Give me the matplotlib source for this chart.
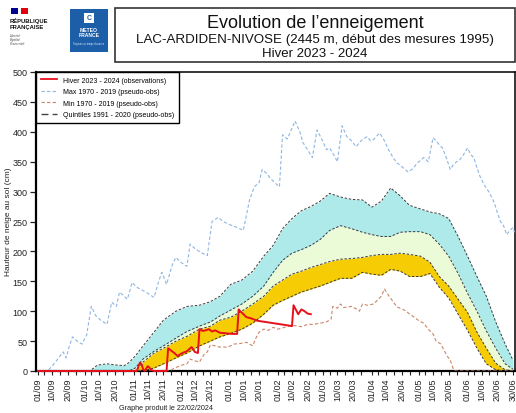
import pandas as pd
import matplotlib
matplotlib.use("Agg")
import matplotlib.pyplot as plt
import matplotlib.dates as mdates
from matplotlib.patches import Rectangle
from matplotlib.lines import Line2D

plt.rcParams["font.family"] = ["Liberation Sans", "DejaVu Sans"]

SEASON_START = "2023-09-01"
SEASON_END = "2024-06-30"

# quintiles 1991-2020, days since 01/09
q_days = [0, 33, 38, 44, 50, 55, 58, 62, 67, 74, 80, 88, 95, 103, 110, 116, 123, 130, 137, 144,
          150, 156, 162, 168, 174, 180, 186, 193, 200, 207, 213, 219, 225, 231, 237, 244, 250,
          256, 262, 268, 274, 280, 286, 292, 298, 303]
q80 = [0, 0, 10, 12, 10, 9, 14, 25, 42, 65, 85, 100, 108, 110, 116, 125, 145, 152, 167, 192,
       210, 238, 255, 268, 275, 284, 297, 291, 287, 286, 274, 284, 306, 293, 277, 271, 266,
       263, 255, 225, 192, 158, 125, 82, 45, 18]
q60 = [0, 0, 0, 0, 0, 0, 0, 5, 20, 33, 42, 55, 66, 75, 82, 92, 102, 112, 125, 142,
       165, 185, 197, 203, 210, 220, 235, 243, 238, 232, 228, 225, 225, 232, 233, 233, 228,
       212, 192, 163, 130, 100, 67, 38, 12, 3]
q40 = [0, 0, 0, 0, 0, 0, 0, 0, 15, 30, 38, 50, 58, 70, 75, 85, 90, 100, 112, 125,
       142, 152, 162, 167, 173, 178, 183, 187, 188, 190, 193, 195, 195, 197, 195, 192, 182,
       158, 142, 120, 98, 65, 38, 13, 2, 0]
q20 = [0, 0, 0, 0, 0, 0, 0, 0, 0, 5, 12, 22, 30, 42, 50, 57, 63, 70, 80, 95,
       110, 118, 125, 132, 137, 142, 148, 155, 155, 165, 162, 160, 170, 167, 158, 158, 163,
       140, 122, 95, 68, 38, 12, 2, 0, 0]

# max 1970-2019
max_days = [0, 6, 9, 12, 14, 16, 18, 20, 22, 25, 28, 31, 34, 37, 40, 44, 47, 50, 52, 55,
            57, 60, 63, 66, 70, 74, 77, 79, 82, 86, 88, 91, 95, 97, 100, 104, 108, 111, 115, 118,
            122, 127, 131, 135, 138, 141, 143, 146, 148, 151, 154, 156, 159, 161, 164, 167, 169, 172, 175, 178,
            181, 184, 186, 189, 191, 194, 197, 200, 203, 205, 207, 210, 212, 214, 218, 221, 224, 227, 229, 232,
            236, 239, 242, 244, 246, 249, 252, 254, 256, 258, 260, 263, 265, 267, 269, 271, 274, 276, 278, 280,
            282, 285, 288, 291, 293, 295, 297, 299, 301, 303, 304]
max_vals = [0, 0, 8, 18, 25, 32, 22, 42, 57, 50, 45, 60, 108, 92, 85, 78, 115, 108, 132, 125,
            120, 148, 140, 136, 130, 123, 150, 165, 145, 180, 190, 182, 175, 212, 205, 198, 193, 250, 257, 250,
            245, 240, 235, 287, 308, 315, 337, 330, 323, 315, 308, 395, 388, 400, 418, 400, 382, 370, 357, 403,
            388, 370, 373, 360, 350, 410, 392, 385, 375, 382, 387, 392, 385, 387, 398, 385, 368, 355, 348, 342,
            333, 338, 348, 352, 357, 350, 390, 385, 378, 373, 360, 337, 345, 350, 353, 360, 373, 362, 357, 340,
            325, 310, 298, 282, 265, 250, 243, 228, 235, 240, 232]

# min 1970-2019
min_days = [0, 84, 87, 89, 92, 95, 97, 100, 103, 106, 108, 110, 113, 116, 120, 123, 125, 129, 133, 137,
            139, 141, 144, 147, 150, 153, 156, 160, 164, 168, 172, 176, 180, 184, 187, 188, 191, 193, 195, 197,
            200, 203, 205, 207, 210, 214, 216, 219, 221, 224, 226, 229, 232, 235, 237, 240, 243, 246, 249, 252,
            254, 257, 259, 261, 263, 265, 266, 304]
min_vals = [0, 0, 5, 7, 10, 12, 20, 17, 15, 28, 32, 44, 42, 40, 40, 42, 45, 46, 48, 42,
            55, 65, 70, 68, 73, 70, 72, 75, 76, 74, 78, 78, 80, 82, 87, 108, 105, 112, 106, 107,
            108, 104, 100, 112, 110, 112, 117, 125, 137, 125, 118, 107, 104, 100, 95, 90, 84, 80, 70, 62,
            50, 45, 35, 25, 18, 3, 0, 0]

# hiver 2023-2024 observations
obs_days = [0, 63, 64, 65, 66, 67, 68, 69, 70, 71, 72, 74, 82, 83, 85, 87, 89, 92, 95, 97,
            98, 100, 102, 103, 105, 107, 109, 111, 113, 116, 120, 124, 127, 128, 129, 131, 133, 136, 140, 145,
            150, 155, 160, 162, 163, 165, 166, 168, 170, 172, 174]
obs_vals = [0, 0, 7, 14, 12, 3, 0, 4, 8, 6, 2, 0, 0, 38, 34, 30, 25, 30, 33, 38,
            40, 32, 30, 70, 67, 68, 70, 66, 68, 64, 63, 62, 62, 103, 100, 95, 90, 88, 84, 82,
            80, 78, 76, 75, 110, 100, 95, 103, 100, 96, 95]

tick_months = ["2023-09", "2023-10", "2023-11", "2023-12", "2024-01",
               "2024-02", "2024-03", "2024-04", "2024-05", "2024-06"]
tick_monthdays = [1, 10, 20]

legend_labels = ["Hiver 2023 - 2024 (observations)", "Max 1970 - 2019 (pseudo-obs)",
                 "Min 1970 - 2019 (pseudo-obs)", "Quintiles 1991 - 2020 (pseudo-obs)"]

C_CYAN = "#aeeaea"
C_GREEN = "#ebfbd8"
C_GOLD = "#f6cc04"
C_QLINE = "#3a3a3a"
C_MAX = "#8db6e2"
C_MIN = "#c9866a"
C_OBS = "#e8101a"

W, H = 516, 414


def to_dates(days):
    return pd.Timestamp(SEASON_START) + pd.to_timedelta(days, unit="D")


def fx(px):
    return px / W


def fy(py):
    return 1 - py / H


fig = plt.figure(figsize=(W / 100, H / 100), dpi=100)
ax = fig.add_axes([fx(36), fy(372), (515 - 36) / W, (372 - 73) / H])

xq = to_dates(q_days)
ax.fill_between(xq, q60, q80, color=C_CYAN, lw=0, zorder=1)
ax.fill_between(xq, q40, q60, color=C_GREEN, lw=0, zorder=1)
ax.fill_between(xq, q20, q40, color=C_GOLD, lw=0, zorder=1)
for q in (q80, q60, q40, q20):
    ax.plot(xq, q, color=C_QLINE, lw=0.7, dashes=(2.5, 1.8), zorder=2)

ax.plot(to_dates(max_days), max_vals, color=C_MAX, lw=0.8, dashes=(3, 2), zorder=3)
ax.plot(to_dates(min_days), min_vals, color=C_MIN, lw=0.8, dashes=(3, 2), zorder=3)
ax.plot(to_dates(obs_days), obs_vals, color=C_OBS, lw=1.4, zorder=5, clip_on=False)

ax.set_ylim(0, 500)
ax.set_xlim(pd.Timestamp(SEASON_START) - pd.Timedelta(hours=31),
            pd.Timestamp(SEASON_END) + pd.Timedelta(hours=31))
ax.set_yticks(range(0, 501, 50))

xticks = [pd.Timestamp(f"{m}-{d:02d}") for m in tick_months for d in tick_monthdays]
xticks.append(pd.Timestamp(SEASON_END))
ax.set_xticks(xticks)
ax.xaxis.set_major_formatter(mdates.DateFormatter("%d/%m"))
ax.xaxis.set_minor_locator(mdates.DayLocator(bymonthday=[5, 15, 25]))
ax.tick_params(axis="x", which="both", length=3, width=0.8, labelsize=6.5, pad=1.5,
               labelrotation=90, colors="#222222")
ax.tick_params(axis="y", length=4, width=0.9, labelsize=6.5, pad=2, colors="#222222")

for side in ("top", "right"):
    ax.spines[side].set_linewidth(1.1)
for side in ("left", "bottom"):
    ax.spines[side].set_linewidth(1.6)

handles = [
    Line2D([], [], color=C_OBS, lw=1.3),
    Line2D([], [], color=C_MAX, lw=0.8, dashes=(3, 2)),
    Line2D([], [], color=C_MIN, lw=0.8, dashes=(3, 2)),
    Line2D([], [], color="#444444", lw=1.0, dashes=(5, 3)),
]
leg = ax.legend(handles, legend_labels, loc="upper left", bbox_to_anchor=(0, 1),
                borderaxespad=0, fontsize=5, handlelength=2.3, handletextpad=0.9,
                labelspacing=0.65, borderpad=0.7, fancybox=False, edgecolor="black",
                framealpha=1)
leg.get_frame().set_linewidth(1.0)
leg.set_zorder(10)

fig.text(fx(9), fy(222), "Hauteur de neige au sol (cm)", rotation=90, fontsize=6,
         ha="center", va="center", color="#222222")
fig.text(fx(166), fy(409), "Graphe produit le 22/02/2024", fontsize=5.2,
         ha="center", va="center", color="#222222")

# title box
fig.add_artist(Rectangle((fx(115), fy(63)), (515 - 115) / W, (63 - 9) / H,
                         transform=fig.transFigure, fill=False, lw=1.2, edgecolor="#333333"))
fig.text(fx(315), fy(23), "Evolution de l\u2019enneigement", fontsize=13,
         ha="center", va="center", color="#111111")
fig.text(fx(315), fy(40), "LAC-ARDIDEN-NIVOSE (2445 m, d\u00e9but des mesures 1995)",
         fontsize=9.6, ha="center", va="center", color="#111111")
fig.text(fx(315), fy(54), "Hiver 2023 - 2024", fontsize=9.5,
         ha="center", va="center", color="#111111")

# République Française block
fig.add_artist(Rectangle((fx(11), fy(15)), 7 / W, 6 / H, transform=fig.transFigure,
                         color="#000091", lw=0))
fig.add_artist(Rectangle((fx(21), fy(15)), 7 / W, 6 / H, transform=fig.transFigure,
                         color="#e1000f", lw=0))
fig.text(fx(10), fy(24), "R\u00c9PUBLIQUE\nFRAN\u00c7AISE", fontsize=4.2, fontweight="bold",
         ha="left", va="center", linespacing=1.15, color="#111111")
fig.text(fx(10), fy(40), "Libert\u00e9\n\u00c9galit\u00e9\nFraternit\u00e9", fontsize=2.6,
         style="italic", ha="left", va="center", linespacing=1.0, color="#555555")

# Météo-France block
fig.add_artist(Rectangle((fx(70), fy(53)), 38 / W, 43 / H, transform=fig.transFigure,
                         color="#1d5ea8", lw=0))
fig.add_artist(Rectangle((fx(84), fy(24)), 10 / W, 10 / H, transform=fig.transFigure,
                         color="white", lw=0))
fig.text(fx(89), fy(19), "C", fontsize=5, fontweight="bold", ha="center", va="center",
         color="#1d5ea8")
fig.text(fx(89), fy(33), "METEO\nFRANCE", fontsize=3.6, fontweight="bold", ha="center",
         va="center", linespacing=0.95, color="white")
fig.text(fx(89), fy(44), "Toujours un temps d'avance", fontsize=1.8, ha="center",
         va="center", color="#dde8f5")

fig.savefig("out.png", dpi=100)
plt.close(fig)
